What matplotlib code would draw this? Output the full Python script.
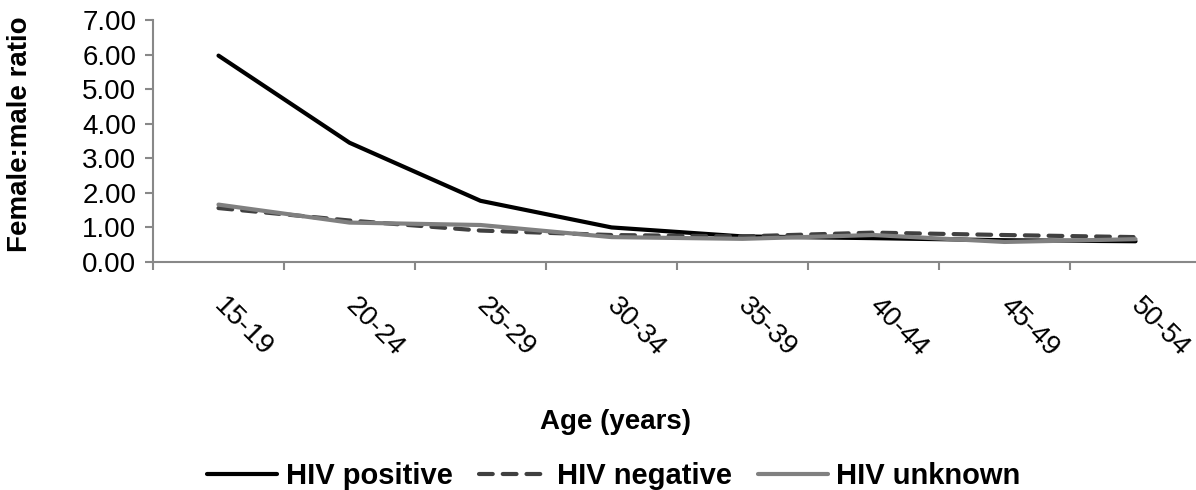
import numpy as np
import matplotlib.pyplot as plt
from matplotlib.transforms import ScaledTranslation

plt.rcParams['font.family'] = ['Liberation Sans', 'DejaVu Sans']

# Data
age_groups = ['15-19', '20-24', '25-29', '30-34', '35-39', '40-44', '45-49', '50-54']
hiv_positive = [5.97, 3.45, 1.77, 1.00, 0.74, 0.69, 0.63, 0.60]
hiv_negative = [1.56, 1.20, 0.91, 0.78, 0.74, 0.85, 0.78, 0.72]
hiv_unknown = [1.66, 1.14, 1.07, 0.72, 0.67, 0.78, 0.58, 0.66]
y_ticks = [0, 1, 2, 3, 4, 5, 6, 7]

W, H = 1196, 490
fig = plt.figure(figsize=(W / 100, H / 100), dpi=100)
ax = fig.add_axes([153 / W, (H - 262) / H, 1048 / W, 242 / H])

x = np.arange(len(age_groups))
ax.plot(x, hiv_positive, color='black', linewidth=3.0, solid_capstyle='round',
        solid_joinstyle='round', label='HIV positive')
ax.plot(x, hiv_negative, color='#404040', linewidth=3.0, linestyle=(0, (3.3, 2.4)),
        dash_capstyle='round', label='HIV negative')
ax.plot(x, hiv_unknown, color='#808080', linewidth=3.0, solid_capstyle='round',
        solid_joinstyle='round', label='HIV unknown')

ax.set_xlim(-0.5, len(age_groups) - 0.5)
ax.set_ylim(0, 7)
ax.set_yticks(y_ticks)
ax.set_yticklabels(['%.2f' % v for v in y_ticks])

# category boundary ticks, labels at the centers
ax.set_xticks(np.arange(-0.5, len(age_groups)), minor=True)
ax.set_xticks(x)
ax.set_xticklabels(age_groups, rotation=-45, ha='left', va='top', rotation_mode='anchor')
ax.tick_params(axis='x', which='major', length=0, pad=22, labelsize=20)
ax.tick_params(axis='x', which='minor', length=6, width=1.5, color='#888888')
ax.tick_params(axis='y', length=6, width=1.5, color='#888888', labelsize=20, pad=6)
shift = ScaledTranslation(9 / 100, 0, fig.dpi_scale_trans)
for lbl in ax.get_xticklabels():
    lbl.set_transform(lbl.get_transform() + shift)

for s in ['top', 'right']:
    ax.spines[s].set_visible(False)
for s in ['left', 'bottom']:
    ax.spines[s].set_color('#888888')
    ax.spines[s].set_linewidth(1.5)

ax.set_ylabel('Female:male ratio', fontsize=20, fontweight='bold')
ax.yaxis.set_label_coords(-(153 - 33) / 1048, 0.53)
fig.text(615 / W, 1 - 422 / H, 'Age (years)', ha='center', va='center',
         fontsize=20, fontweight='bold')

fig.legend(loc='center', bbox_to_anchor=(614 / W, 1 - 476 / H), ncol=3, frameon=False,
           prop={'size': 21, 'weight': 'bold'}, handlelength=2.4, handletextpad=0.28,
           columnspacing=0.9, borderaxespad=0, borderpad=0)

plt.savefig('out.png', dpi=100)
